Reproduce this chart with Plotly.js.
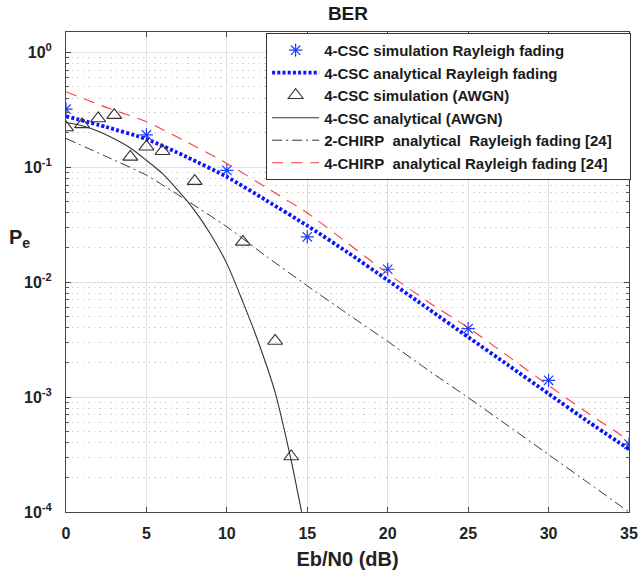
<!DOCTYPE html>
<html>
<head>
<meta charset="utf-8">
<script src="https://cdn.plot.ly/plotly-3.0.1.min.js"></script>
<style>html,body{margin:0;padding:0;background:#fff;}#chart{width:642px;height:576px;}</style>
</head>
<body>
<div id="chart"></div>
<script>
// ---- data ----
var simRayX = [0, 5, 10, 15, 20, 25, 30, 35];
var simRayY = [0.32, 0.191, 0.094, 0.0248, 0.01295, 0.00394, 0.0014, 0.00039];

var anaRayX = [0, 2.5, 5, 7.5, 10, 12.5, 15, 17.5, 20, 22.5, 25, 27.5, 30, 32.5, 35];
var anaRayY = [0.278, 0.224, 0.176, 0.123, 0.0825, 0.051, 0.031, 0.0182, 0.0104, 0.0059, 0.00333, 0.00189, 0.00107, 0.000606, 0.000352];

var simAwgnX = [0, 1, 2, 3, 4, 5, 6, 8, 11, 13, 14];
var simAwgnY = [0.222, 0.236, 0.266, 0.284, 0.123, 0.151, 0.138, 0.0757, 0.0224, 0.00308, 0.000304];

var anaAwgnX = [0, 1, 2, 3, 4, 5, 6, 7, 8, 9, 10, 11, 12, 13, 14, 14.65, 15];
var anaAwgnY = [0.245, 0.23, 0.206, 0.177, 0.147, 0.115, 0.088, 0.062, 0.042, 0.026, 0.0145, 0.0067, 0.0029, 0.0011, 0.00028, 0.0001, 0.00006];

var chirp2X = [0, 2.5, 5, 7.5, 10, 12.5, 15, 17.5, 20, 22.5, 25, 27.5, 30, 32.5, 35];
var chirp2Y = [0.178, 0.124, 0.0853, 0.0515, 0.0303, 0.0166, 0.0093, 0.0053, 0.00305, 0.00172, 0.00099, 0.00056, 0.000316, 0.000178, 0.0001];

var chirp4X = [0, 2.5, 5, 7.5, 10, 12.5, 15, 17.5, 20, 22.5, 25, 27.5, 30, 32.5, 35];
var chirp4Y = [0.454, 0.332, 0.249, 0.166, 0.108, 0.066, 0.040, 0.0219, 0.0119, 0.00676, 0.00402, 0.00226, 0.00126, 0.000716, 0.00042];

var names = [
  "4-CSC simulation Rayleigh fading",
  "4-CSC analytical Rayleigh fading",
  "4-CSC simulation (AWGN)",
  "4-CSC analytical (AWGN)",
  "2-CHIRP\u00a0 analytical\u00a0 Rayleigh fading [24]\u00a0\u00a0\u00a0",
  "4-CHIRP\u00a0 analytical Rayleigh fading [24]"
];

var yTickVals = [1e-4, 1e-3, 1e-2, 1e-1, 1];
var yTickText = ["10<sup>-4</sup>", "10<sup>-3</sup>", "10<sup>-2</sup>", "10<sup>-1</sup>", "10<sup>0</sup>"];
var xTickVals = [0, 5, 10, 15, 20, 25, 30, 35];

// minor log ticks (axis configuration)
var minorVals = [];
for (var e = -4; e <= 0; e++) {
  for (var m = 2; m <= 9; m++) { minorVals.push(m * Math.pow(10, e)); }
}

var FONT = "Liberation Sans, Arial, sans-serif";

var traces = [
  {x: simRayX, y: simRayY, name: names[0], mode: "markers", type: "scatter",
   marker: {symbol: "asterisk-open", size: 11, color: "#1f3dff", line: {color: "#1f3dff", width: 1.2}}},
  {x: anaRayX, y: anaRayY, name: names[1], mode: "lines", type: "scatter", line: {shape: "spline", smoothing: 0.6,
   color: "#0a14ff", width: 3.8, dash: "3px,2.2px"}},
  {x: simAwgnX, y: simAwgnY, name: names[2], mode: "markers", type: "scatter",
   marker: {symbol: "triangle-up-open", size: 13, color: "#333", line: {color: "#333", width: 1.1}}},
  {x: anaAwgnX, y: anaAwgnY, name: names[3], mode: "lines", type: "scatter",
   line: {shape: "spline", smoothing: 0.8, color: "#333", width: 1.1}},
  {x: chirp2X, y: chirp2Y, name: names[4], mode: "lines", type: "scatter",
   line: {shape: "spline", smoothing: 0.6, color: "#333", width: 1, dash: "10px,4px,2px,4px"}},
  {x: chirp4X, y: chirp4Y, name: names[5], mode: "lines", type: "scatter",
   line: {shape: "spline", smoothing: 0.6, color: "#ff3b3b", width: 1.1, dash: "11px,8px"}}
];

var layout = {
  width: 642, height: 576,
  margin: {l: 66, r: 12, t: 32, b: 64},
  paper_bgcolor: "#ffffff", plot_bgcolor: "#ffffff",
  font: {family: FONT, color: "#222"},
  title: {text: "BER", font: {family: FONT, size: 19, weight: "bold", color: "#1a1a1a"},
          x: 0.542, xanchor: "center", y: 0.977, yanchor: "middle"},
  showlegend: true,
  legend: {x: 1.002, xanchor: "right", y: 0.998, yanchor: "top",
           bgcolor: "#ffffff", bordercolor: "#333", borderwidth: 1,
           font: {family: FONT, size: 15, weight: "bold", color: "#1a1a1a"},
           itemwidth: 47, tracegroupgap: 0},
  xaxis: {
    range: [0, 35], tickmode: "array", tickvals: xTickVals,
    ticks: "inside", ticklen: 5, tickcolor: "#444", mirror: "ticks",
    showline: true, linecolor: "#444", linewidth: 1,
    showgrid: true, gridcolor: "#e0e0e0", gridwidth: 1, zeroline: false,
    ticklabelstandoff: 7,
    tickfont: {family: FONT, size: 16, weight: "bold", color: "#222"},
    title: {text: "Eb/N0 (dB)", font: {family: FONT, size: 20, weight: "bold", color: "#222"}, standoff: 10}
  },
  yaxis: {
    type: "log", range: [-4, 0.177], tickmode: "array", tickvals: yTickVals, ticktext: yTickText,
    ticks: "inside", ticklen: 5, tickcolor: "#444", mirror: "ticks",
    showline: true, linecolor: "#444", linewidth: 1,
    showgrid: true, gridcolor: "#e0e0e0", gridwidth: 1, zeroline: false,
    ticklabelstandoff: 10,
    tickfont: {family: FONT, size: 16, weight: "bold", color: "#222"},
    minor: {tickmode: "array", tickvals: minorVals, ticks: "inside", ticklen: 3, tickcolor: "#555",
            showgrid: true, gridcolor: "#cfcfcf", griddash: "1.5px,4px", gridwidth: 1}
  },
  annotations: [
    {text: "P<sub>e</sub>", xref: "paper", yref: "paper", x: -0.083, y: 0.57, xanchor: "center", yanchor: "middle",
     showarrow: false, font: {family: FONT, size: 20, weight: "bold", color: "#222"}}
  ]
};

Plotly.newPlot("chart", traces, layout, {displayModeBar: false, staticPlot: true});
</script>
</body>
</html>
